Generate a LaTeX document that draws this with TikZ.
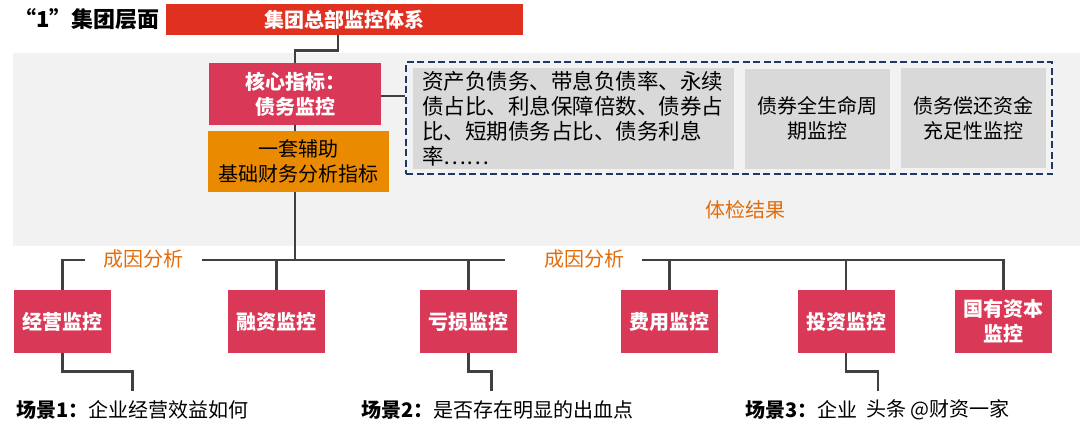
\documentclass[tikz,border=0pt]{standalone}
\usepackage{fontspec}
\setmainfont{Noto Sans CJK SC}
\usetikzlibrary{calc}
\definecolor{topred}{RGB}{224,48,32}
\definecolor{crim}{RGB}{217,57,87}
\definecolor{orng}{RGB}{233,138,0}
\definecolor{bggray}{RGB}{242,242,242}
\definecolor{boxgray}{RGB}{217,217,217}
\definecolor{navy}{RGB}{31,56,100}
\definecolor{lab}{RGB}{227,108,10}
\definecolor{ln}{RGB}{64,64,64}
\begin{document}
\begin{tikzpicture}[x=1pt,y=-1pt,
  redbox/.style={fill=crim, text=white, font=\bfseries\fontsize{20}{25}\selectfont, inner sep=0pt, align=center, minimum height=63pt, minimum width=97pt},
  graybox/.style={fill=boxgray, text=black, font=\fontsize{20}{25}\selectfont, inner sep=0pt, align=center, minimum height=100pt, minimum width=145pt},
  conn/.style={draw=ln, line width=2.9pt},
  labeltext/.style={text=lab, font=\fontsize{20}{25}\selectfont, inner sep=0pt},
  scene/.style={text=black, font=\fontsize{20}{25}\selectfont, inner sep=0pt, minimum height=38pt}
]
\useasboundingbox (0,0) rectangle (1080,434);
\fill[bggray] (13,53) rectangle (1080,246);

\node[anchor=west, inner sep=0pt, font=\bfseries\fontsize{22}{26}\selectfont] (title) at (14,19) {“1”集团层面};
\node[fill=topred, text=white, font=\bfseries\fontsize{20}{25}\selectfont, inner sep=0pt, minimum width=357pt, minimum height=31pt] (top) at (344.5,19.5) {集团总部监控体系};

\node[redbox, minimum width=172pt, minimum height=62pt] (core) at (295,94) {核心指标：\\债务监控};
\node[fill=orng, text=black, font=\fontsize{20}{25}\selectfont, inner sep=0pt, align=center, minimum width=181pt, minimum height=61pt] (orng) at (298.5,161.5) {一套辅助\\基础财务分析指标};

\node[draw=navy, dashed, line width=2.2pt, dash pattern=on 7pt off 3.5pt, minimum width=646pt, minimum height=112pt, inner sep=0pt] (dash) at (729,118) {};
\node[fill=boxgray, text=black, font=\fontsize{21.5}{25}\selectfont, inner xsep=9pt, inner ysep=0pt, align=left, text width=303pt, minimum height=101pt] (g1) at (573.5,118.5) {资产负债务、带息负债率、永续\\债占比、利息保障倍数、债券占\\比、短期债务占比、债务利息\\率……};
\node[graybox] (g2) at (817,118.5) {债券全生命周\\期监控};
\node[graybox] (g3) at (973.5,118) {债务偿还资金\\充足性监控};

\node[labeltext] (tj) at (745,210) {体检结果};

\coordinate (bus) at (0,260);
\coordinate (cl1) at (85,260);
\coordinate (cl2) at (202,260);
\coordinate (cr1) at (505,260);
\coordinate (cr2) at (642,260);
\node[labeltext] (cy1) at (143,259) {成因分析};
\node[labeltext] (cy2) at (584,259) {成因分析};

\node[redbox] (b1) at (62.5,321.5) {经营监控};
\node[redbox] (b2) at (276.5,321.5) {融资监控};
\node[redbox] (b3) at (468.5,321.5) {亏损监控};
\node[redbox] (b4) at (669.5,321.5) {费用监控};
\node[redbox] (b5) at (846,321.5) {投资监控};
\node[redbox] (b6) at (1003.5,321.5) {国有资本\\监控};

\node[scene, anchor=west] (sc1) at (16,410) {\textbf{场景1：}企业经营效益如何};
\node[scene, anchor=west] (sc2) at (361,410) {\textbf{场景2：}是否存在明显的出血点};
\node[scene, anchor=west] (sc3) at (745,410) {\textbf{场景3：}企业};
\node[scene, anchor=west] (wm) at (866,410) {头条 @财资一家};
\coordinate (sc3end) at (878,391);

% connectors
\draw[conn] ([xshift=-6.5pt]top.south) -- ++(0,15) -| (core.north);
\draw[conn] (core.south) -- (core.south |- orng.north);
\draw[conn] (core.south |- orng.south) -- (core.south |- bus);
\draw[conn] ([yshift=-2pt]core.east) -- ([yshift=-2pt]core.east -| dash.west);
\draw[conn] (b1.north) |- (cl1);
\draw[conn] (cl2) -- (cr1);
\draw[conn] (cr2) -| (b6.north);
\foreach \b in {b2,b3,b4,b5} {\draw[conn] (\b.north) -- (\b.north |- bus);}
\draw[conn] (b1.south) -- ++(0,18) -| (sc1.north);
\draw[conn] (b3.south) -- ++(0,18) -| ([xshift=-6pt]sc2.north);
\draw[conn] (b5.south) -- ++(0,18) -| (sc3end);
\end{tikzpicture}
\end{document}
